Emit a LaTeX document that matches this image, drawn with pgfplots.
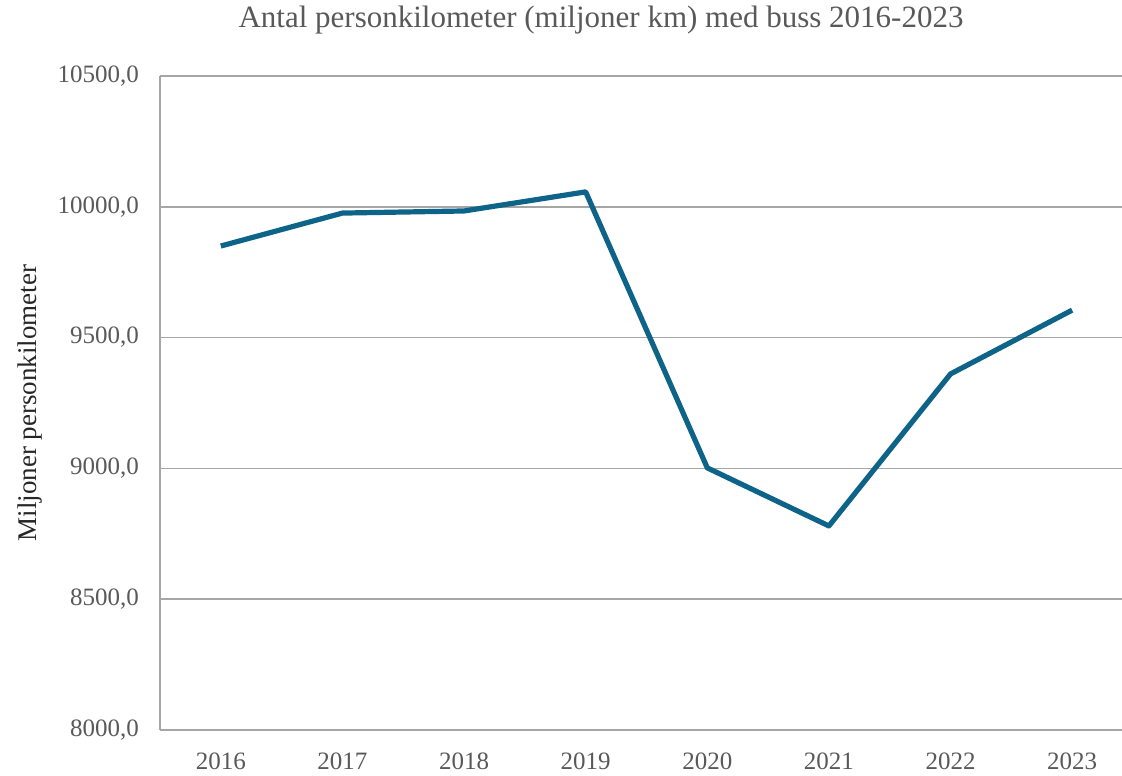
\documentclass[border=0pt]{standalone}
\usepackage{pgfplots}
\pgfplotsset{compat=1.18}
\usepackage{fontspec}
\setmainfont{Liberation Serif}
\definecolor{linec}{HTML}{0E6488}
\definecolor{gridc}{HTML}{A6A6A6}
\definecolor{txt}{HTML}{595959}
\begin{document}
\begin{tikzpicture}
\begin{axis}[
  scale only axis,
  width=481pt, height=327pt,
  xmin=-0.5, xmax=7.41,
  ymin=8000, ymax=10500,
  ytick={8000,8500,9000,9500,10000,10500},
  scaled y ticks=false,
  xtick={0,1,2,3,4,5,6,7},
  xticklabels={2016,2017,2018,2019,2020,2021,2022,2023},
  axis x line*=bottom, axis y line*=left,
  axis line style={gridc, line width=1pt},
  x axis line style={-}, y axis line style={-},
  major tick length=0pt,
  ymajorgrids, major grid style={gridc, line width=0.8pt},
  tick label style={font=\fontsize{12.5}{14}\selectfont, text=txt},
  yticklabel style={xshift=-7pt},
  xticklabel style={yshift=-8pt},
  /pgf/number format/assume math mode=true,
  yticklabel={\pgfmathprintnumber[fixed, fixed zerofill, precision=1, use comma, 1000 sep={}]{\tick}},
  ylabel={Miljoner personkilometer},
  ylabel style={font=\fontsize{13.5}{15}\selectfont, text=black!85, yshift=1pt},
  clip=false,
]
\addplot[linec, line width=2.6pt, line join=round, mark=none] coordinates {
  (0,9850) (1,9976) (2,9984) (3,10057) (4,9002) (5,8780) (6,9361) (7,9605)
};
\end{axis}
\node[font=\fontsize{15.5}{17}\selectfont, text=txt] at ([xshift=220.5pt, yshift=28pt]current axis.north west) {Antal personkilometer (miljoner km) med buss 2016-2023};
\pgfresetboundingbox
\path ([xshift=-80pt, yshift=-23pt]current axis.south west) rectangle ([yshift=38pt]current axis.north east);
\end{tikzpicture}
\end{document}
